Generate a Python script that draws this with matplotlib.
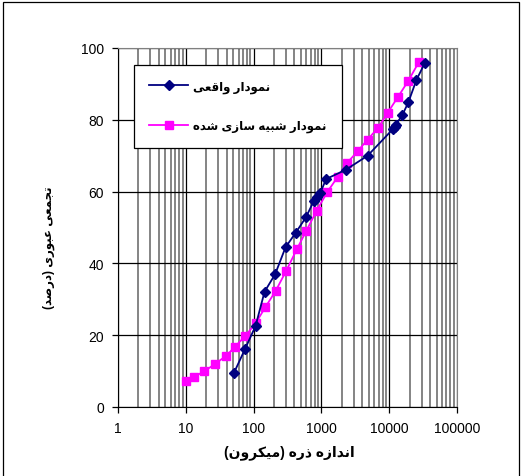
import matplotlib
matplotlib.use("Agg")
import matplotlib.pyplot as plt
from matplotlib.patches import Rectangle
from matplotlib.ticker import LogLocator, NullFormatter, FixedLocator, FixedFormatter
import numpy as np

# measured series (particle size in micron, cumulative passing %)
actual_size = [51, 75, 107, 145, 208, 296, 420, 590, 770, 853, 957, 1173,
               2300, 4800, 11200, 12000, 12500, 15700, 19200, 25200, 33500]
actual_pass = [9.4, 16.2, 22.6, 32.1, 37.0, 44.5, 48.6, 52.8, 57.3, 58.4, 59.5, 63.5,
               66.1, 70.0, 77.3, 78.0, 78.6, 81.4, 84.9, 91.1, 95.8]

sim_size = [10, 13.2, 18.6, 27, 39.7, 52.6, 75.5, 107, 149, 211, 302, 433, 596,
            853, 1213, 1740, 2390, 3420, 4800, 6890, 9440, 13400, 19200, 27600]
sim_pass = [7.3, 8.4, 9.9, 12.0, 14.3, 16.7, 19.8, 23.3, 27.8, 32.3, 37.9, 43.9, 49.0,
            54.7, 59.8, 64.1, 68.0, 71.2, 74.5, 77.8, 81.9, 86.3, 90.9, 96.2]

x_ticks = [1, 10, 100, 1000, 10000, 100000]
x_tick_labels = ["1", "10", "100", "1000", "10000", "100000"]
y_ticks = [0, 20, 40, 60, 80, 100]

label_actual = "نمودار واقعی"
label_sim = "نمودار شبیه سازی شده"
x_title = "اندازه ذره (میکرون)"
y_title = "تجمعی عبوری (درصد)"

# simple arabic/persian shaping -> presentation forms, then visual order
FORMS = {  # isolated, final, initial, medial
    'ا': (0xFE8D, 0xFE8E, None, None),
    'ب': (0xFE8F, 0xFE90, 0xFE91, 0xFE92),
    'ت': (0xFE95, 0xFE96, 0xFE97, 0xFE98),
    'ج': (0xFE9D, 0xFE9E, 0xFE9F, 0xFEA0),
    'د': (0xFEA9, 0xFEAA, None, None),
    'ذ': (0xFEAB, 0xFEAC, None, None),
    'ر': (0xFEAD, 0xFEAE, None, None),
    'ز': (0xFEAF, 0xFEB0, None, None),
    'س': (0xFEB1, 0xFEB2, 0xFEB3, 0xFEB4),
    'ش': (0xFEB5, 0xFEB6, 0xFEB7, 0xFEB8),
    'ص': (0xFEB9, 0xFEBA, 0xFEBB, 0xFEBC),
    'ع': (0xFEC9, 0xFECA, 0xFECB, 0xFECC),
    'ق': (0xFED5, 0xFED6, 0xFED7, 0xFED8),
    'ک': (0xFB8E, 0xFB8F, 0xFB90, 0xFB91),
    'م': (0xFEE1, 0xFEE2, 0xFEE3, 0xFEE4),
    'ن': (0xFEE5, 0xFEE6, 0xFEE7, 0xFEE8),
    'ه': (0xFEE9, 0xFEEA, 0xFEEB, 0xFEEC),
    'و': (0xFEED, 0xFEEE, None, None),
    'ی': (0xFBFC, 0xFBFD, 0xFBFE, 0xFBFF),
}


def shape(text):
    out = []
    n = len(text)
    for i, ch in enumerate(text):
        if ch not in FORMS:
            out.append(ch)
            continue
        f = FORMS[ch]
        prev = text[i - 1] if i > 0 else ''
        nxt = text[i + 1] if i < n - 1 else ''
        j_prev = prev in FORMS and FORMS[prev][2] is not None
        j_next = f[2] is not None and nxt in FORMS
        if j_prev and j_next:
            code = f[3]
        elif j_prev:
            code = f[1]
        elif j_next:
            code = f[2]
        else:
            code = f[0]
        out.append(chr(code))
    vis = ''.join(reversed(out))
    return vis.translate(str.maketrans({'(': ')', ')': '('}))


plt.rcParams['font.family'] = ['Liberation Sans', 'DejaVu Sans']

fig = plt.figure(figsize=(5.23, 4.77), dpi=100)
ax = fig.add_axes([118 / 523, 69 / 477, 339 / 523, 359 / 477])

ax.plot(actual_size, actual_pass, color='#000080', lw=1.3, marker='D', ms=5,
        label=shape(label_actual), zorder=4)
ax.plot(sim_size, sim_pass, color='#FF00FF', lw=1.3, marker='s', ms=5.5,
        label=shape(label_sim), zorder=3)

ax.set_xscale('log')
ax.set_xlim(1, 100000)
ax.set_ylim(0, 100)
ax.xaxis.set_major_locator(FixedLocator(x_ticks))
ax.xaxis.set_major_formatter(FixedFormatter(x_tick_labels))
ax.xaxis.set_minor_locator(LogLocator(base=10, subs=np.arange(2, 10)))
ax.xaxis.set_minor_formatter(NullFormatter())
ax.set_yticks(y_ticks)

ax.grid(which='major', axis='both', color='black', lw=0.9)
ax.grid(which='minor', axis='x', color='#707070', lw=1.2)
ax.set_axisbelow(True)

ax.tick_params(which='major', direction='out', length=4, width=0.9,
               labelsize=10, pad=6, color='black')
ax.tick_params(which='minor', length=0)
for s in ['left', 'bottom']:
    ax.spines[s].set_color('black')
for s in ['top', 'right']:
    ax.spines[s].set_color('#808080')

ax.set_xlabel(shape(x_title), fontsize=10, fontweight='bold')
ax.xaxis.set_label_coords(0.507, -0.125)
ax.set_ylabel(shape(y_title), fontsize=8.5, fontweight='bold')
ax.yaxis.set_label_coords(-0.205, 0.446)
ax.yaxis.label.set_verticalalignment('center')
ax.xaxis.label.set_verticalalignment('center')

leg = ax.legend(loc='upper left', bbox_to_anchor=(134 / 523, 1 - 66 / 477),
                bbox_transform=fig.transFigure, borderaxespad=0, frameon=True,
                fancybox=False, framealpha=1, edgecolor='black',
                handlelength=3.3, labelspacing=2.3, borderpad=1.3,
                handletextpad=0.4, prop={'weight': 'bold', 'size': 8.5})
leg.get_frame().set_linewidth(0.9)
leg.set_zorder(10)

fig.patches.append(Rectangle((3 / 523, -0.05), 516 / 523, 1.05 - 3 / 477,
                             transform=fig.transFigure, fill=False,
                             edgecolor='black', lw=0.9))

fig.savefig('out.png', dpi=100)
